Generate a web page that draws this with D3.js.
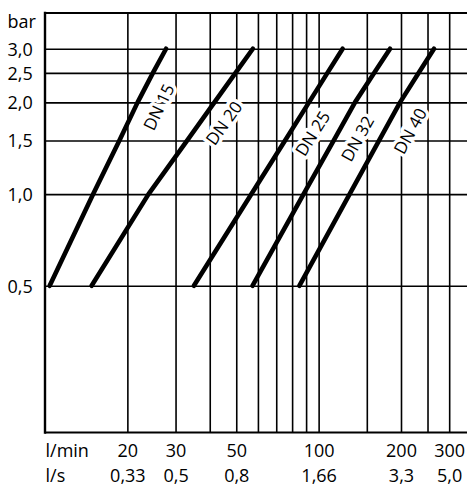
<!DOCTYPE html>
<html>
<head>
<meta charset="utf-8">
<script src="https://cdn.jsdelivr.net/npm/d3@7"></script>
<style>
  html, body { margin: 0; padding: 0; background: #fff; }
  svg { display: block; }
  text { font-family: "Open Sans", "DejaVu Sans", sans-serif; fill: #000; }
</style>
</head>
<body>
<svg id="chart" width="467" height="486"></svg>
<script>
// ---- data ----
const pressure = [0.5, 1.0, 1.5, 2.0, 2.5, 3.0];            // bar
const dn15 = [10.4, 15.0, 18.7, 21.8, 24.8, 27.7];           // l/min
const dn20 = [14.8, 23.9, 33.1, 41.6, 49.7, 57.5];
const dn25 = [35.0, 56.8, 75.4, 92.2, 107.7, 122.4];
const dn32 = [57.3, 88.1, 113.6, 135.8, 159.7, 182.4];
const dn40 = [85.0, 129.8, 166.4, 198.4, 232.2, 264.1];
const seriesNames = ["DN 15", "DN 20", "DN 25", "DN 32", "DN 40"];
const seriesFlows = [dn15, dn20, dn25, dn32, dn40];

const pressureTicks = [0.5, 1.0, 1.5, 2.0, 2.5, 3.0];
const pressureLabels = ["0,5", "1,0", "1,5", "2,0", "2,5", "3,0"];
const flowGrid = [20, 30, 40, 50, 60, 70, 80, 90, 100, 150, 200, 250, 300];
const flowTicks = [20, 30, 50, 100, 200, 300];
const flowLabels = ["20", "30", "50", "100", "200", "300"];
const lsLabels = ["0,33", "0,5", "0,8", "1,66", "3,3", "5,0"];

// caption anchors (data units) for the DN labels
const labelFlow = [26.05, 45.1, 95.1, 138.7, 216.2];
const labelPressure = [1.93, 1.71, 1.58, 1.52, 1.61];

// ---- layout ----
const W = 467, H = 486;
const mLeft = 45, mRight = 467.5, mTop = 13, mBottom = 432.5;
const tickFont = "18px", capFont = "17px";

const svg = d3.select("#chart");

const x = d3.scaleLog().domain([10, 350]).range([mLeft, mRight]);
const y = d3.scaleLog().domain([0.165, 3.93]).range([mBottom, mTop]);

// y grid + labels
const gy = svg.append("g")
  .attr("transform", `translate(${mLeft},0)`)
  .call(d3.axisLeft(y)
    .tickValues(pressureTicks)
    .tickSize(-(mRight - mLeft))
    .tickPadding(0)
    .tickFormat((d, i) => pressureLabels[i]));
gy.select(".domain").remove();
gy.selectAll(".tick line").attr("stroke", "#000").attr("stroke-width", 1.6);
gy.selectAll(".tick text")
  .attr("x", 7.5 - mLeft)
  .attr("dy", "0.36em")
  .attr("text-anchor", "start")
  .style("font-size", tickFont);

// x grid + labels (l/min)
const gx = svg.append("g")
  .attr("transform", `translate(0,${mBottom})`)
  .call(d3.axisBottom(x)
    .tickValues(flowGrid)
    .tickSize(-(mBottom - mTop))
    .tickFormat(d => {
      const i = flowTicks.indexOf(d);
      return i >= 0 ? flowLabels[i] : "";
    }));
gx.select(".domain").remove();
gx.selectAll(".tick line").attr("stroke", "#000").attr("stroke-width", 1.6);
gx.selectAll(".tick text")
  .attr("y", 24).attr("dy", 0)
  .style("font-size", tickFont);

// second row (l/s)
const gs = svg.append("g")
  .attr("transform", `translate(0,${mBottom})`)
  .call(d3.axisBottom(x)
    .tickValues(flowTicks)
    .tickSize(0)
    .tickFormat((d, i) => lsLabels[i]));
gs.select(".domain").remove();
gs.selectAll(".tick line").remove();
gs.selectAll(".tick text")
  .attr("y", 49).attr("dy", 0)
  .style("font-size", tickFont);

// unit labels
svg.append("text").attr("x", 7.5).attr("y", 28).style("font-size", tickFont).text("bar");
svg.append("text").attr("x", 45.5).attr("y", mBottom + 24).style("font-size", tickFont).text("l/min");
svg.append("text").attr("x", 45.5).attr("y", mBottom + 49).style("font-size", tickFont).text("l/s");

// frame
svg.append("line").attr("x1", mLeft).attr("x2", mLeft).attr("y1", mTop - 1.2).attr("y2", mBottom + 1.2)
  .attr("stroke", "#000").attr("stroke-width", 2.4);
svg.append("line").attr("x1", mLeft).attr("x2", W).attr("y1", mTop).attr("y2", mTop)
  .attr("stroke", "#000").attr("stroke-width", 2.2);
svg.append("line").attr("x1", mLeft).attr("x2", W).attr("y1", mBottom).attr("y2", mBottom)
  .attr("stroke", "#000").attr("stroke-width", 2.2);

// curves
const line = d3.line().x(d => x(d[0])).y(d => y(d[1]));
seriesFlows.forEach(flows => {
  const pts = flows.map((f, i) => [f, pressure[i]]);
  svg.append("path")
    .attr("d", line(pts))
    .attr("fill", "none")
    .attr("stroke", "#000")
    .attr("stroke-width", 4.6)
    .attr("stroke-linecap", "round")
    .attr("stroke-linejoin", "round");
});

// captions
seriesNames.forEach((name, k) => {
  const flows = seriesFlows[k];
  const p = labelPressure[k];
  let i = d3.bisectLeft(pressure, p);
  i = Math.max(1, Math.min(pressure.length - 1, i));
  const x0 = x(flows[i - 1]), y0 = y(pressure[i - 1]);
  const x1 = x(flows[i]), y1 = y(pressure[i]);
  const ang = Math.atan2(y1 - y0, x1 - x0) * 180 / Math.PI;
  const cx = x(labelFlow[k]), cy = y(p);
  svg.append("text")
    .attr("transform", `translate(${cx},${cy}) rotate(${ang})`)
    .attr("text-anchor", "middle")
    .attr("dy", "0.36em")
    .style("font-size", capFont)
    .attr("stroke", "#fff")
    .attr("stroke-width", 7)
    .attr("paint-order", "stroke")
    .attr("stroke-linejoin", "round")
    .text(name);
});
</script>
</body>
</html>
